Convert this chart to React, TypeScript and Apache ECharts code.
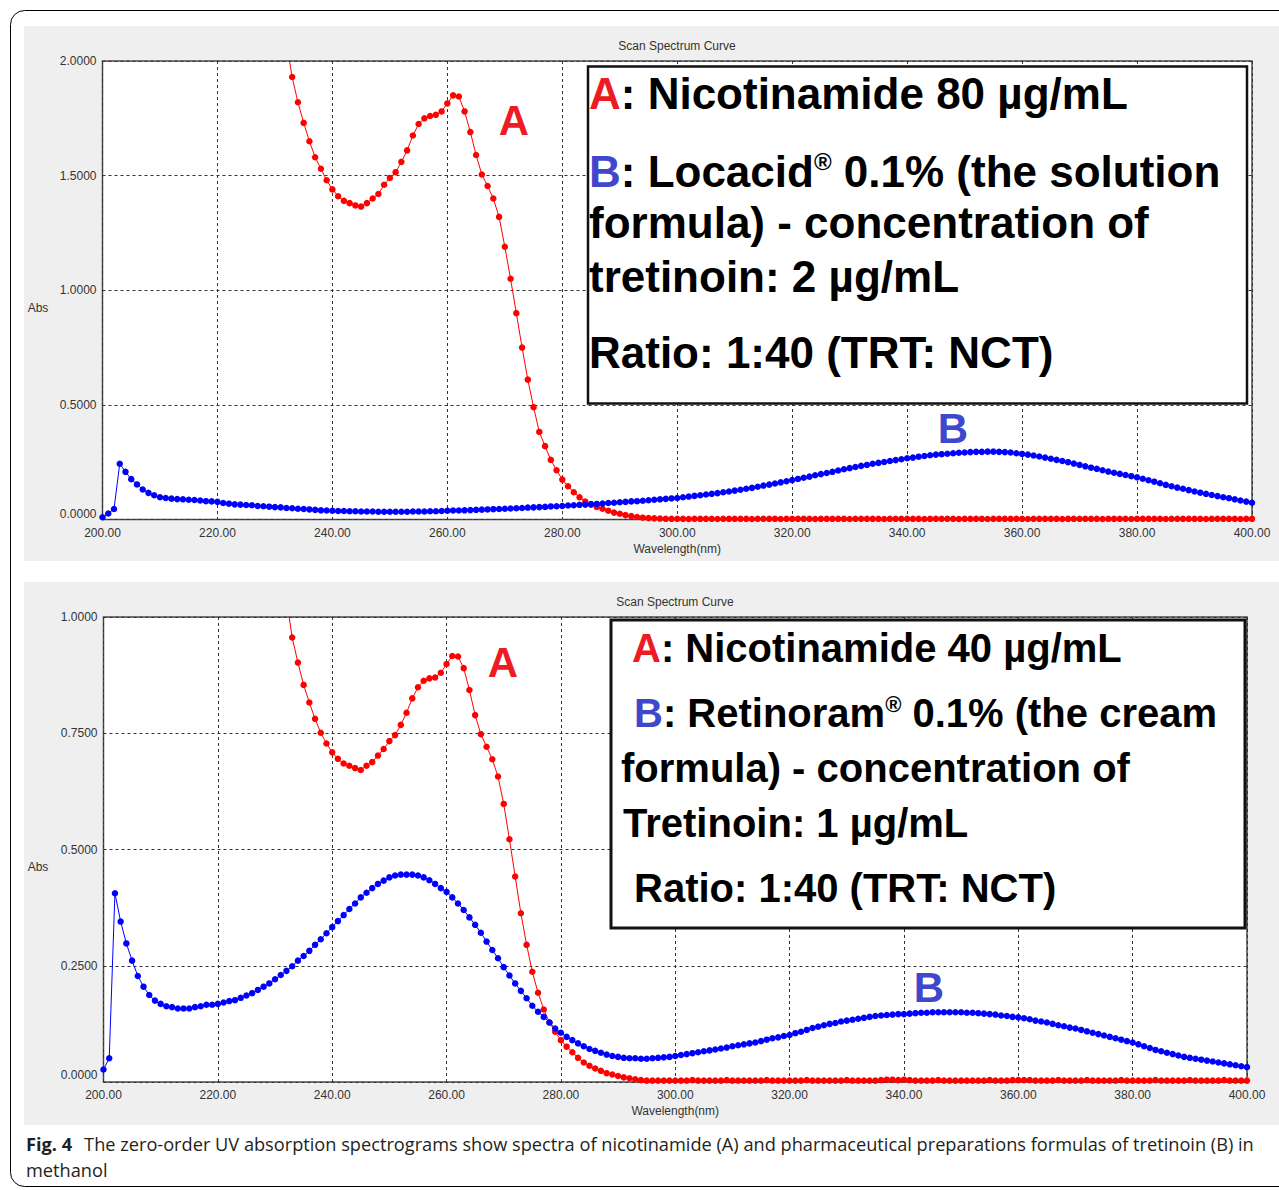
import React, { useEffect, useRef } from "react";
import * as echarts from "echarts";

// Scan grid of the spectrophotometer (nm)
const SCAN_START_NM = 200;
const SCAN_STEP_NM = 1;

const X_MIN = 200;
const X_MAX = 400;
const X_INTERVAL = 20;
const TOP_Y_MAX = 2;
const TOP_Y_INTERVAL = 0.5;
const BOTTOM_Y_MAX = 1;
const BOTTOM_Y_INTERVAL = 0.25;

// Panel 1 — A: Nicotinamide 80 µg/mL (absorbance, 200..400 nm, 1 nm steps)
const nicotinamide80 = [
  null, null, null, null, null, null, null, null, null, null, // 200
  null, null, null, null, null, null, null, null, null, null, // 210
  null, null, null, null, null, null, null, null, null, null, // 220
  null, null, 2.08, 1.93, 1.82, 1.73, 1.65, 1.58, 1.53, 1.48, // 230
  1.44, 1.41, 1.39, 1.38, 1.37, 1.365, 1.38, 1.40, 1.42, 1.46, // 240
  1.49, 1.515, 1.56, 1.61, 1.675, 1.725, 1.75, 1.76, 1.765, 1.78, // 250
  1.815, 1.85, 1.845, 1.78, 1.69, 1.59, 1.505, 1.455, 1.40, 1.32, // 260
  1.19, 1.05, 0.90, 0.75, 0.61, 0.49, 0.382, 0.32, 0.26, 0.215, // 270
  0.174, 0.145, 0.119, 0.097, 0.078, 0.065, 0.055, 0.047, 0.038, 0.030, // 280
  0.025, 0.019, 0.015, 0.011, 0.008, 0.006, 0.005, 0.004, 0.003, 0.003, // 290
  0.003, 0.003, 0.002, 0.003, 0.003, 0.003, 0.003, 0.002, 0.003, 0.003, // 300
  0.003, 0.003, 0.003, 0.002, 0.003, 0.003, 0.003, 0.003, 0.002, 0.003, // 310
  0.003, 0.003, 0.003, 0.003, 0.002, 0.003, 0.003, 0.003, 0.003, 0.003, // 320
  0.002, 0.003, 0.003, 0.003, 0.003, 0.003, 0.002, 0.003, 0.003, 0.003, // 330
  0.003, 0.003, 0.003, 0.002, 0.003, 0.003, 0.003, 0.003, 0.003, 0.002, // 340
  0.003, 0.003, 0.003, 0.003, 0.002, 0.003, 0.003, 0.003, 0.003, 0.003, // 350
  0.003, 0.002, 0.003, 0.003, 0.003, 0.003, 0.003, 0.002, 0.003, 0.003, // 360
  0.003, 0.003, 0.003, 0.003, 0.002, 0.003, 0.003, 0.003, 0.003, 0.002, // 370
  0.003, 0.003, 0.003, 0.003, 0.003, 0.002, 0.003, 0.003, 0.003, 0.003, // 380
  0.003, 0.003, 0.002, 0.003, 0.003, 0.003, 0.003, 0.003, 0.002, 0.003, // 390
  0.003, // 400
];

// Panel 1 — B: Locacid® 0.1% (tretinoin 2 µg/mL)
const locacid = [
  0.010, 0.026, 0.046, 0.243, 0.208, 0.176, 0.153, 0.131, 0.116, 0.106, // 200
  0.097, 0.094, 0.091, 0.089, 0.088, 0.086, 0.085, 0.083, 0.080, 0.079, // 210
  0.077, 0.072, 0.069, 0.066, 0.065, 0.063, 0.062, 0.059, 0.058, 0.056, // 220
  0.054, 0.053, 0.050, 0.049, 0.047, 0.046, 0.044, 0.042, 0.040, 0.039, // 230
  0.038, 0.037, 0.037, 0.036, 0.036, 0.035, 0.035, 0.035, 0.034, 0.034, // 240
  0.034, 0.034, 0.034, 0.034, 0.035, 0.035, 0.035, 0.036, 0.036, 0.037, // 250
  0.038, 0.039, 0.039, 0.040, 0.041, 0.042, 0.043, 0.044, 0.045, 0.046, // 260
  0.047, 0.048, 0.049, 0.050, 0.052, 0.053, 0.054, 0.055, 0.057, 0.058, // 270
  0.059, 0.061, 0.062, 0.064, 0.065, 0.067, 0.068, 0.070, 0.072, 0.073, // 280
  0.075, 0.077, 0.079, 0.080, 0.082, 0.084, 0.086, 0.088, 0.090, 0.092, // 290
  0.094, 0.097, 0.100, 0.103, 0.106, 0.109, 0.112, 0.115, 0.119, 0.122, // 300
  0.126, 0.130, 0.134, 0.138, 0.143, 0.148, 0.152, 0.157, 0.162, 0.167, // 310
  0.172, 0.177, 0.182, 0.187, 0.193, 0.198, 0.203, 0.208, 0.214, 0.219, // 320
  0.224, 0.229, 0.234, 0.238, 0.243, 0.247, 0.251, 0.255, 0.259, 0.263, // 330
  0.267, 0.270, 0.274, 0.277, 0.280, 0.283, 0.285, 0.287, 0.289, 0.291, // 340
  0.292, 0.294, 0.295, 0.295, 0.296, 0.296, 0.295, 0.294, 0.292, 0.289, // 350
  0.286, 0.283, 0.279, 0.275, 0.270, 0.265, 0.260, 0.255, 0.250, 0.244, // 360
  0.238, 0.232, 0.226, 0.221, 0.215, 0.209, 0.204, 0.199, 0.194, 0.189, // 370
  0.184, 0.178, 0.171, 0.165, 0.158, 0.151, 0.145, 0.139, 0.134, 0.128, // 380
  0.122, 0.117, 0.112, 0.107, 0.102, 0.097, 0.093, 0.088, 0.083, 0.078, // 390
  0.073, // 400
];

// Panel 2 — A: Nicotinamide 40 µg/mL
const nicotinamide40 = [
  null, null, null, null, null, null, null, null, null, null, // 200
  null, null, null, null, null, null, null, null, null, null, // 210
  null, null, null, null, null, null, null, null, null, null, // 220
  null, null, 1.04, 0.956, 0.902, 0.854, 0.816, 0.781, 0.751, 0.728, // 230
  0.709, 0.695, 0.685, 0.680, 0.675, 0.671, 0.680, 0.688, 0.702, 0.716, // 240
  0.733, 0.746, 0.768, 0.794, 0.825, 0.849, 0.863, 0.868, 0.870, 0.880, // 250
  0.899, 0.916, 0.915, 0.890, 0.843, 0.789, 0.748, 0.721, 0.694, 0.657, // 260
  0.598, 0.522, 0.442, 0.363, 0.295, 0.237, 0.192, 0.156, 0.128, 0.108, // 270
  0.090, 0.076, 0.064, 0.052, 0.042, 0.035, 0.029, 0.024, 0.019, 0.016, // 280
  0.013, 0.010, 0.008, 0.006, 0.004, 0.003, 0.003, 0.003, 0.003, 0.003, // 290
  0.003, 0.003, 0.003, 0.004, 0.003, 0.003, 0.003, 0.003, 0.003, 0.004, // 300
  0.003, 0.003, 0.003, 0.003, 0.003, 0.003, 0.004, 0.003, 0.003, 0.003, // 310
  0.003, 0.003, 0.003, 0.004, 0.003, 0.003, 0.003, 0.003, 0.003, 0.003, // 320
  0.004, 0.003, 0.003, 0.003, 0.003, 0.003, 0.004, 0.005, 0.005, 0.004, // 330
  0.005, 0.004, 0.003, 0.003, 0.003, 0.003, 0.004, 0.003, 0.003, 0.003, // 340
  0.003, 0.003, 0.003, 0.003, 0.003, 0.004, 0.003, 0.003, 0.003, 0.004, // 350
  0.004, 0.004, 0.004, 0.003, 0.003, 0.003, 0.003, 0.004, 0.003, 0.003, // 360
  0.003, 0.003, 0.004, 0.003, 0.003, 0.003, 0.003, 0.003, 0.004, 0.003, // 370
  0.003, 0.003, 0.003, 0.003, 0.004, 0.003, 0.003, 0.003, 0.003, 0.003, // 380
  0.004, 0.003, 0.003, 0.003, 0.003, 0.003, 0.004, 0.003, 0.003, 0.003, // 390
  0.003, // 400
];

// Panel 2 — B: Retinoram® 0.1% (tretinoin 1 µg/mL)
const retinoram = [
  0.027, 0.051, 0.406, 0.345, 0.298, 0.261, 0.228, 0.205, 0.187, 0.175, // 200
  0.168, 0.163, 0.161, 0.158, 0.158, 0.158, 0.161, 0.163, 0.166, 0.166, // 210
  0.168, 0.171, 0.174, 0.176, 0.181, 0.186, 0.191, 0.198, 0.205, 0.212, // 220
  0.221, 0.230, 0.239, 0.249, 0.261, 0.271, 0.282, 0.295, 0.307, 0.320, // 230
  0.333, 0.346, 0.359, 0.372, 0.384, 0.397, 0.407, 0.417, 0.426, 0.433, // 240
  0.440, 0.444, 0.446, 0.446, 0.446, 0.444, 0.440, 0.434, 0.426, 0.417, // 250
  0.409, 0.397, 0.384, 0.370, 0.354, 0.338, 0.321, 0.302, 0.284, 0.266, // 260
  0.247, 0.229, 0.212, 0.196, 0.180, 0.164, 0.151, 0.140, 0.128, 0.115, // 270
  0.106, 0.097, 0.090, 0.083, 0.077, 0.071, 0.067, 0.063, 0.059, 0.056, // 280
  0.054, 0.052, 0.051, 0.051, 0.050, 0.050, 0.051, 0.052, 0.053, 0.054, // 290
  0.056, 0.058, 0.060, 0.062, 0.064, 0.066, 0.068, 0.070, 0.072, 0.074, // 300
  0.077, 0.079, 0.081, 0.083, 0.085, 0.088, 0.091, 0.094, 0.096, 0.099, // 310
  0.101, 0.105, 0.108, 0.112, 0.116, 0.119, 0.122, 0.125, 0.127, 0.130, // 320
  0.132, 0.134, 0.136, 0.138, 0.140, 0.142, 0.143, 0.144, 0.145, 0.146, // 330
  0.146, 0.147, 0.148, 0.149, 0.149, 0.150, 0.150, 0.150, 0.150, 0.150, // 340
  0.150, 0.149, 0.149, 0.148, 0.147, 0.146, 0.145, 0.143, 0.142, 0.140, // 350
  0.139, 0.137, 0.135, 0.132, 0.130, 0.128, 0.125, 0.122, 0.120, 0.117, // 360
  0.115, 0.112, 0.109, 0.106, 0.103, 0.100, 0.097, 0.094, 0.091, 0.088, // 370
  0.085, 0.081, 0.077, 0.073, 0.069, 0.066, 0.063, 0.060, 0.057, 0.054, // 380
  0.052, 0.050, 0.048, 0.046, 0.044, 0.042, 0.040, 0.038, 0.036, 0.034, // 390
  0.032, // 400
];

const CHART_TITLE = "Scan Spectrum Curve";
const X_NAME = "Wavelength(nm)";
const Y_NAME = "Abs";

const TOP_BOX_LINES = [
  "{a|A}: Nicotinamide 80 µg/mL",
  "{b|B}: Locacid{r|®} 0.1% (the solution",
  "formula) - concentration of",
  "tretinoin: 2 µg/mL",
  "Ratio: 1:40 (TRT: NCT)",
];
const BOTTOM_BOX_LINES = [
  "{a|A}: Nicotinamide 40 µg/mL",
  "{b|B}: Retinoram{r|®} 0.1% (the cream",
  "formula) - concentration of",
  "Tretinoin: 1 µg/mL",
  "Ratio: 1:40 (TRT: NCT)",
];
const CAPTION_LINE1 =
  "The zero-order UV absorption spectrograms show spectra of nicotinamide (A) and pharmaceutical preparations formulas of tretinoin (B) in";
const CAPTION_LINE2 = "methanol";

const AXIS_FONT = "'Liberation Sans', Arial, sans-serif";
const BOX_FONT = "'Liberation Sans', Arial, sans-serif";
const CAPTION_FONT = "'Open Sans', 'Noto Sans', sans-serif";
const RED = "#ff0000";
const BLUE = "#0000ff";
const LABEL_RED = "#ed1c24";
const LABEL_BLUE = "#3f48cc";

const toPairs = (vals: (number | null)[]) =>
  vals
    .map((v, i) => (v == null ? null : [SCAN_START_NM + i * SCAN_STEP_NM, v]))
    .filter((p) => p !== null) as number[][];

function boxTexts(lines: string[], xs: number[], ys: number[], size: number) {
  const base = { fontSize: size, fontWeight: "bold", fontFamily: BOX_FONT };
  return lines.map((t, i) => ({
    type: "text",
    z: 102,
    x: xs[i],
    y: ys[i],
    style: {
      text: t,
      ...base,
      fill: "#000",
      align: "left",
      verticalAlign: "middle",
      textAlign: "left",
      textVerticalAlign: "middle",
      rich: {
        a: { ...base, fill: LABEL_RED },
        b: { ...base, fill: LABEL_BLUE },
        r: { ...base, fontSize: Math.round(size * 0.55), fill: "#000", verticalAlign: "top" },
      },
    },
  }));
}

function bigLabel(text: string, x: number, y: number, color: string) {
  return {
    type: "text",
    z: 102,
    x,
    y,
    style: {
      text,
      fontSize: 42,
      fontWeight: "bold",
      fontFamily: BOX_FONT,
      fill: color,
      align: "center",
      verticalAlign: "middle",
      textAlign: "center",
      textVerticalAlign: "middle",
    },
  };
}

function plainText(text: string, x: number, y: number, extra: any = {}) {
  return {
    type: "text",
    z: 5,
    x,
    y,
    style: {
      text,
      fontSize: 12,
      fontFamily: AXIS_FONT,
      fill: "#333",
      align: "center",
      verticalAlign: "middle",
      textAlign: "center",
      textVerticalAlign: "middle",
      ...extra,
    },
  };
}

function makeXAxis(gridIndex: number) {
  return {
    type: "value",
    gridIndex,
    min: X_MIN,
    max: X_MAX,
    interval: X_INTERVAL,
    name: X_NAME,
    nameLocation: "middle",
    nameGap: 23,
    nameTextStyle: { fontSize: 12, fontFamily: AXIS_FONT, color: "#333" },
    axisLine: { show: false },
    axisTick: { show: false },
    axisLabel: {
      formatter: (v: number) => v.toFixed(2),
      fontSize: 12,
      fontFamily: AXIS_FONT,
      color: "#333",
      margin: 7,
      showMinLabel: true,
      showMaxLabel: true,
    },
    splitLine: { show: true, lineStyle: { color: "#333", type: [3, 3], width: 1 } },
  };
}

function makeYAxis(gridIndex: number, max: number, interval: number, zeroShift: number) {
  return {
    type: "value",
    gridIndex,
    min: 0,
    max,
    interval,
    axisLine: { show: false },
    axisTick: { show: false },
    axisLabel: {
      formatter: (v: number) => (v === 0 ? "{z|0.0000}" : v.toFixed(4)),
      fontSize: 12,
      fontFamily: AXIS_FONT,
      color: "#333",
      margin: 6,
      rich: {
        z: { fontSize: 12, fontFamily: AXIS_FONT, color: "#333", padding: [0, 0, zeroShift, 0] },
      },
    },
    splitLine: { show: true, lineStyle: { color: "#333", type: [3, 3], width: 1 } },
  };
}

function makeSeries(name: string, vals: (number | null)[], color: string, idx: number) {
  return {
    type: "line",
    name,
    xAxisIndex: idx,
    yAxisIndex: idx,
    data: toPairs(vals),
    symbol: "circle",
    symbolSize: 6.5,
    showSymbol: true,
    clip: true,
    silent: true,
    lineStyle: { color, width: 1 },
    itemStyle: { color },
    z: 3,
  };
}

export default function App() {
  const ref = useRef<HTMLDivElement>(null);
  useEffect(() => {
    if (!ref.current) return;
    const chart = echarts.init(ref.current, undefined, { renderer: "svg" });
    const option: any = {
      animation: false,
      backgroundColor: "#ffffff",
      title: [
        {
          text: CHART_TITLE,
          left: 677,
          top: 40,
          textAlign: "center",
          padding: 0,
          textStyle: { fontSize: 12, fontWeight: "normal", fontFamily: AXIS_FONT, color: "#333" },
        },
        {
          text: CHART_TITLE,
          left: 675,
          top: 596,
          textAlign: "center",
          padding: 0,
          textStyle: { fontSize: 12, fontWeight: "normal", fontFamily: AXIS_FONT, color: "#333" },
        },
      ],
      grid: [
        {
          left: 102.5,
          top: 61,
          width: 1149.5,
          height: 458.5,
          show: true,
          backgroundColor: "#ffffff",
          borderColor: "#4a4a4a",
          borderWidth: 1.5,
        },
        {
          left: 103.5,
          top: 617,
          width: 1143.5,
          height: 465,
          show: true,
          backgroundColor: "#ffffff",
          borderColor: "#4a4a4a",
          borderWidth: 1.5,
        },
      ],
      xAxis: [makeXAxis(0), makeXAxis(1)],
      yAxis: [
        makeYAxis(0, TOP_Y_MAX, TOP_Y_INTERVAL, 12),
        makeYAxis(1, BOTTOM_Y_MAX, BOTTOM_Y_INTERVAL, 14),
      ],
      series: [
        makeSeries("A: Nicotinamide 80 µg/mL", nicotinamide80, RED, 0),
        makeSeries("B: Locacid 0.1%", locacid, BLUE, 0),
        makeSeries("A: Nicotinamide 40 µg/mL", nicotinamide40, RED, 1),
        makeSeries("B: Retinoram 0.1%", retinoram, BLUE, 1),
      ],
      graphic: [
        {
          type: "rect",
          z: -100,
          shape: { x: 10.5, y: 10.5, width: 1300, height: 1176, r: 14 },
          style: { fill: "#ffffff", stroke: "#000000", lineWidth: 1 },
        },
        {
          type: "rect",
          z: -99,
          shape: { x: 24, y: 26, width: 1300, height: 535 },
          style: { fill: "#efefef" },
        },
        {
          type: "rect",
          z: -99,
          shape: { x: 24, y: 582, width: 1300, height: 543 },
          style: { fill: "#efefef" },
        },
        plainText(Y_NAME, 38, 308),
        plainText(Y_NAME, 38, 867),
        {
          type: "rect",
          z: 101,
          shape: { x: 588, y: 66.5, width: 659, height: 337 },
          style: { fill: "#ffffff", stroke: "#111111", lineWidth: 2.5 },
        },
        ...boxTexts(TOP_BOX_LINES, [589, 589, 589, 589, 589], [93, 171, 222, 276, 352], 44),
        {
          type: "rect",
          z: 101,
          shape: { x: 611, y: 620, width: 634, height: 308 },
          style: { fill: "#ffffff", stroke: "#111111", lineWidth: 3 },
        },
        ...boxTexts(BOTTOM_BOX_LINES, [632, 634, 621, 623, 634], [648, 713, 768, 823, 888], 40),
        bigLabel("A", 514, 120, LABEL_RED),
        bigLabel("B", 953, 428, LABEL_BLUE),
        bigLabel("A", 503, 662, LABEL_RED),
        bigLabel("B", 929, 987, LABEL_BLUE),
        {
          type: "text",
          z: 5,
          x: 26,
          y: 1144,
          style: {
            text: "{f|Fig. 4}" + CAPTION_LINE1,
            fontSize: 18.2,
            fontFamily: CAPTION_FONT,
            fill: "#231f20",
            align: "left",
            verticalAlign: "middle",
            textAlign: "left",
            textVerticalAlign: "middle",
            rich: {
              f: {
                fontSize: 18.2,
                fontFamily: CAPTION_FONT,
                fontWeight: "bold",
                fill: "#231f20",
                padding: [0, 12, 0, 0],
              },
            },
          },
        },
        {
          type: "text",
          z: 5,
          x: 26,
          y: 1170,
          style: {
            text: CAPTION_LINE2,
            fontSize: 18.2,
            fontFamily: CAPTION_FONT,
            fill: "#231f20",
            align: "left",
            verticalAlign: "middle",
            textAlign: "left",
            textVerticalAlign: "middle",
          },
        },
      ],
    };
    chart.setOption(option);
    return () => chart.dispose();
  }, []);
  return (
    <div
      ref={ref}
      style={{ position: "absolute", left: 0, top: 0, width: 1279, height: 1190, background: "#fff" }}
    />
  );
}
